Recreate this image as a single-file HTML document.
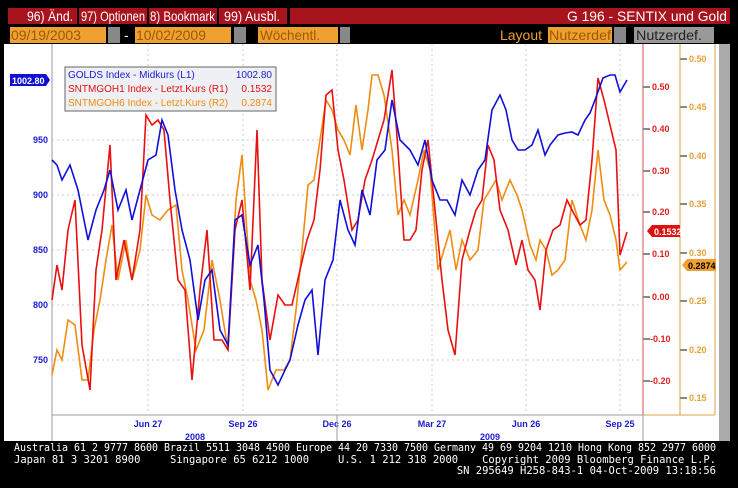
<!DOCTYPE html>
<html><head><meta charset="utf-8"><style>
body{margin:0;background:#000;width:738px;height:488px;overflow:hidden;font-family:"Liberation Sans",sans-serif}
</style></head><body>
<svg width="738" height="488" xmlns="http://www.w3.org/2000/svg" style="position:absolute;left:0;top:0">
<rect width="738" height="488" fill="#000"/>
<!-- top bar -->
<rect x="8" y="8" width="722" height="16" fill="#a8141e"/>
<g font-size="14" fill="#fff" font-family="Liberation Sans, sans-serif">
<text x="27" y="21" textLength="46" lengthAdjust="spacingAndGlyphs">96)  Änd.</text>
<text x="81" y="21" textLength="64" lengthAdjust="spacingAndGlyphs">97)  Optionen</text>
<text x="150" y="21" textLength="65" lengthAdjust="spacingAndGlyphs">8)  Bookmark</text>
<text x="224" y="21" textLength="56" lengthAdjust="spacingAndGlyphs">99)  Ausbl.</text>
<text x="727" y="21" text-anchor="end" textLength="160" lengthAdjust="spacingAndGlyphs">G 196 - SENTIX und Gold</text>
</g>
<rect x="77" y="8" width="2" height="16" fill="#000"/><rect x="147" y="8" width="2" height="16" fill="#000"/>
<rect x="217" y="8" width="2" height="16" fill="#000"/><rect x="287" y="8" width="3" height="16" fill="#000"/>
<!-- second row -->
<rect x="10" y="27" width="96" height="16" fill="#f0a030"/><rect x="108" y="27" width="12" height="16" fill="#888"/>
<rect x="135" y="27" width="96" height="16" fill="#f0a030"/><rect x="234" y="27" width="12" height="16" fill="#888"/>
<rect x="258" y="27" width="80" height="16" fill="#f0a030"/><rect x="340" y="27" width="10" height="16" fill="#888"/>
<rect x="548" y="27" width="64" height="16" fill="#f0a030"/><rect x="614" y="27" width="12" height="16" fill="#888"/>
<rect x="634" y="27" width="80" height="16" fill="#999"/>
<g font-size="14" font-family="Liberation Sans, sans-serif">
<text x="11" y="40" fill="#9a5a00" textLength="70" lengthAdjust="spacingAndGlyphs">09/19/2003</text><text x="124" y="40" fill="#fff">-</text>
<text x="136" y="40" fill="#9a5a00" textLength="70" lengthAdjust="spacingAndGlyphs">10/02/2009</text>
<text x="260" y="40" fill="#9a5a00" textLength="60" lengthAdjust="spacingAndGlyphs">Wöchentl.</text>
<text x="500" y="40" fill="#f0a030" textLength="42" lengthAdjust="spacingAndGlyphs">Layout</text>
<text x="549" y="40" fill="#9a5a00" textLength="62" lengthAdjust="spacingAndGlyphs">Nutzerdef</text>
<text x="636" y="40" fill="#222" textLength="66" lengthAdjust="spacingAndGlyphs">Nutzerdef.</text>
</g>
<!-- chart area -->
<rect x="4" y="44" width="716" height="397" fill="#fff"/>
<rect x="719" y="44" width="11" height="397" fill="#aaa"/>
<line x1="52" y1="44" x2="52" y2="441" stroke="#99a" stroke-width="1"/>
<line x1="52" y1="415" x2="643" y2="415" stroke="#99a"/>
<line x1="643" y1="44" x2="643" y2="415" stroke="#d05050"/>
<line x1="680" y1="44" x2="680" y2="415" stroke="#e0a040"/>
<line x1="715" y1="44" x2="715" y2="415" stroke="#e0a040"/>
<line x1="643" y1="415" x2="715" y2="415" stroke="#e0a040"/>
<!-- grid -->
<g stroke="#ccc" stroke-dasharray="2,3" stroke-width="1">
<line x1="148" y1="44" x2="148" y2="415"/><line x1="243" y1="44" x2="243" y2="415"/>
<line x1="337" y1="44" x2="337" y2="415"/><line x1="432" y1="44" x2="432" y2="415"/>
<line x1="526" y1="44" x2="526" y2="415"/><line x1="620" y1="44" x2="620" y2="415"/>
<line x1="52" y1="140" x2="643" y2="140"/><line x1="52" y1="195" x2="643" y2="195"/>
<line x1="52" y1="250" x2="643" y2="250"/><line x1="52" y1="305" x2="643" y2="305"/>
<line x1="52" y1="360" x2="643" y2="360"/>
</g>
<!-- left axis -->
<g font-size="9" font-weight="bold" fill="#1a1ad0" text-anchor="end">
<text x="48" y="143">950</text><text x="48" y="198">900</text><text x="48" y="253">850</text>
<text x="48" y="308">800</text><text x="48" y="363">750</text>
</g>
<path d="M10 74 H46 L50 80 L46 86 H10 Z" fill="#1010d0"/>
<text x="12" y="84" font-size="9" font-weight="bold" fill="#fff">1002.80</text>
<!-- red axis -->
<g font-size="9" font-weight="bold" fill="#e02020">
<text x="652" y="90">0.50</text><text x="652" y="132">0.40</text><text x="652" y="174">0.30</text>
<text x="652" y="215">0.20</text><text x="652" y="257">0.10</text><text x="652" y="300">0.00</text>
<text x="650" y="342">-0.10</text><text x="650" y="384">-0.20</text>
</g>
<g stroke="#888" stroke-width="2">
<line x1="643" y1="87" x2="650" y2="87"/><line x1="643" y1="129" x2="650" y2="129"/><line x1="643" y1="171" x2="650" y2="171"/>
<line x1="643" y1="212" x2="650" y2="212"/><line x1="643" y1="254" x2="650" y2="254"/><line x1="643" y1="297" x2="650" y2="297"/>
<line x1="643" y1="339" x2="650" y2="339"/><line x1="643" y1="381" x2="650" y2="381"/>
<line x1="680" y1="59" x2="687" y2="59"/><line x1="680" y1="107" x2="687" y2="107"/><line x1="680" y1="156" x2="687" y2="156"/>
<line x1="680" y1="204" x2="687" y2="204"/><line x1="680" y1="253" x2="687" y2="253"/><line x1="680" y1="301" x2="687" y2="301"/>
<line x1="680" y1="350" x2="687" y2="350"/><line x1="680" y1="398" x2="687" y2="398"/>
</g>
<path d="M647 231 L652 225 H680 V237 H652 Z" fill="#e01010"/>
<text x="654" y="235" font-size="9" font-weight="bold" fill="#fff">0.1532</text>
<!-- orange axis -->
<g font-size="9" font-weight="bold" fill="#e8a030">
<text x="689" y="62">0.50</text><text x="689" y="110">0.45</text><text x="689" y="159">0.40</text>
<text x="689" y="207">0.35</text><text x="689" y="256">0.30</text><text x="689" y="304">0.25</text>
<text x="689" y="353">0.20</text><text x="689" y="401">0.15</text>
</g>
<path d="M682 265 L687 259 H716 V271 H687 Z" fill="#f0a030"/>
<text x="688" y="269" font-size="9" font-weight="bold" fill="#000">0.2874</text>
<!-- x axis -->
<g font-size="9" font-weight="bold" fill="#1a1ad0" text-anchor="middle">
<text x="148" y="427">Jun 27</text><text x="243" y="427">Sep 26</text><text x="337" y="427">Dec 26</text>
<text x="432" y="427">Mar 27</text><text x="526" y="427">Jun 26</text><text x="620" y="427">Sep 25</text>
<text x="195" y="440">2008</text><text x="490" y="440">2009</text>
</g>
<line x1="337" y1="415" x2="337" y2="441" stroke="#99a"/>
<line x1="643" y1="415" x2="643" y2="441" stroke="#99a"/>
<!-- series -->
<polyline fill="none" stroke="#f08c10" stroke-width="1.6" points="52,375 57,350 62,360 68,320 75,325 82,380 88,380 94,330 100,300 106,260 112,225 118,280 126,240 132,280 140,250 146,195 152,215 160,220 168,210 176,205 182,270 188,300 196,350 204,330 212,260 220,300 228,350 236,200 242,155 250,280 256,300 262,330 268,390 276,370 284,370 290,360 296,310 302,250 308,185 314,180 320,140 326,100 332,110 338,130 344,140 350,155 356,105 362,150 368,110 372,75 378,75 384,95 392,150 398,215 404,200 410,215 418,180 424,150 430,170 438,270 444,250 450,230 456,270 462,240 470,260 478,250 484,200 490,190 496,180 502,200 510,180 517,195 522,210 530,245 536,260 540,240 546,250 552,275 558,270 565,260 572,200 580,225 586,240 592,210 598,150 604,200 610,215 616,240 620,270 627,262"/>
<polyline fill="none" stroke="#e81010" stroke-width="1.6" points="52,300 57,265 62,290 68,230 75,200 82,345 90,390 96,270 102,230 110,145 116,280 124,240 132,280 140,230 146,115 152,125 158,120 164,130 170,200 178,280 185,290 192,380 200,290 207,230 214,340 222,340 228,350 235,230 242,200 250,290 257,130 262,280 270,340 278,295 285,305 292,305 300,270 307,240 314,220 320,170 326,95 332,90 338,150 344,180 352,230 358,220 365,180 372,160 378,140 384,120 392,70 398,150 404,240 410,240 416,230 422,170 428,140 435,210 442,280 448,330 455,355 462,260 470,230 476,210 482,200 488,145 494,160 500,210 508,230 516,265 522,240 528,270 535,280 540,310 546,250 553,230 560,225 567,200 572,210 580,225 586,220 592,160 598,78 604,100 610,125 616,150 620,255 627,232"/>
<polyline fill="none" stroke="#1010d8" stroke-width="1.6" points="52,160 57,165 62,180 70,165 78,190 88,240 96,210 104,190 110,170 118,210 126,190 132,220 140,190 148,160 156,155 162,120 168,135 175,190 182,230 190,260 198,320 205,280 212,270 220,330 228,345 235,220 242,215 250,265 258,245 264,300 270,370 278,385 285,370 290,360 298,325 305,300 312,290 318,355 325,280 333,260 340,200 348,230 355,245 362,190 370,215 377,160 385,150 392,100 400,140 410,150 418,165 425,140 432,180 440,200 447,200 455,215 462,180 470,195 478,170 485,160 492,110 500,95 506,110 512,140 518,150 525,150 532,145 538,130 545,155 550,145 558,135 565,133 572,132 578,135 585,120 590,113 595,100 603,78 610,75 615,75 620,92 627,80"/>
<!-- legend -->
<rect x="65" y="67" width="211" height="44" fill="#eef0f4" stroke="#666"/>
<g font-size="10">
<text x="68" y="78" fill="#1a1ad0">GOLDS Index - Midkurs (L1)</text><text x="272" y="78" fill="#1a1ad0" text-anchor="end">1002.80</text>
<text x="68" y="92" fill="#e01010">SNTMGOH1 Index - Letzt.Kurs (R1)</text><text x="272" y="92" fill="#e01010" text-anchor="end">0.1532</text>
<text x="68" y="106" fill="#f08c10">SNTMGOH6 Index - Letzt.Kurs (R2)</text><text x="272" y="106" fill="#f08c10" text-anchor="end">0.2874</text>
</g>
<!-- footer -->
<g font-size="10.5" fill="#fff" font-family="DejaVu Sans Mono, Liberation Mono, monospace">
<text x="14" y="451" textLength="702" lengthAdjust="spacingAndGlyphs">Australia 61 2 9777 8600 Brazil 5511 3048 4500 Europe 44 20 7330 7500 Germany 49 69 9204 1210 Hong Kong 852 2977 6000</text>
<text x="14" y="463">Japan 81 3 3201 8900</text>
<text x="170" y="463">Singapore 65 6212 1000</text>
<text x="338" y="463">U.S. 1 212 318 2000</text>
<text x="716" y="463" text-anchor="end">Copyright 2009 Bloomberg Finance L.P.</text>
<text x="716" y="474" text-anchor="end">SN 295649 H258-843-1 04-Oct-2009 13:18:56</text>
</g>
</svg>
</body></html>
